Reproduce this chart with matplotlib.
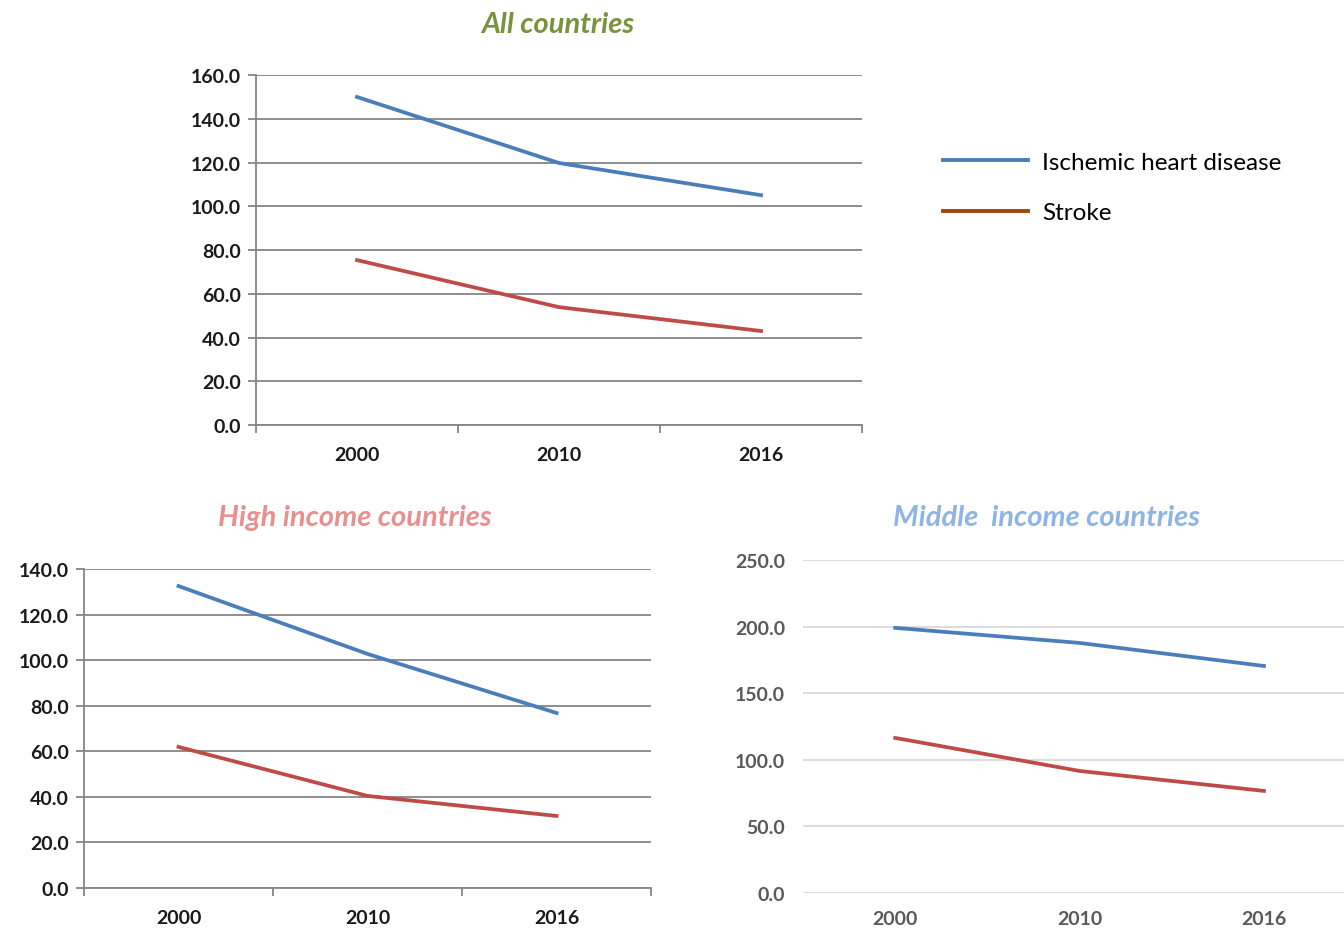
import matplotlib
matplotlib.use("Agg")
import matplotlib.pyplot as plt
from matplotlib.lines import Line2D

plt.rcParams['font.family'] = ['Lato', 'DejaVu Sans']

years = ['2000', '2010', '2016']

all_ihd = [150.0, 119.8, 105.1]
all_stroke = [75.4, 53.9, 43.0]

high_ihd = [132.5, 102.7, 76.8]
high_stroke = [61.9, 40.4, 31.6]

mid_ihd = [199.0, 187.7, 170.4]
mid_stroke = [116.4, 91.6, 76.6]

blue = '#4a7ebb'
red = '#be4b48'
legend_red = '#9e480e'

fig = plt.figure(figsize=(13.44, 9.29), dpi=100)


def style_boxed(ax, ymax, step):
    ax.set_ylim(0, ymax)
    ax.set_xlim(-0.5, 2.5)
    ax.set_yticks([i * step for i in range(int(ymax / step) + 1)])
    ax.set_yticklabels([f'{i * step:.1f}' for i in range(int(ymax / step) + 1)])
    ax.set_xticks(range(3))
    ax.set_xticklabels(years)
    ax.set_xticks([-0.5, 0.5, 1.5, 2.5], minor=True)
    ax.tick_params(axis='x', which='major', length=0, pad=15)
    ax.tick_params(axis='x', which='minor', length=6, color='#868686', width=1.3)
    ax.tick_params(axis='y', length=6, color='#868686', width=1.3, pad=5)
    ax.grid(axis='y', color='#868686', linewidth=1.3)
    ax.set_axisbelow(True)
    for s in ['top', 'right']:
        ax.spines[s].set_visible(False)
    for s in ['left', 'bottom']:
        ax.spines[s].set_color('#868686')
        ax.spines[s].set_linewidth(1.3)
    for lab in ax.get_xticklabels() + ax.get_yticklabels():
        lab.set_fontsize(14)
        lab.set_fontweight('bold')
        lab.set_color('#1a1a1a')


# All countries
ax1 = fig.add_axes([0.1905, 0.5414, 0.4509, 0.3767])
ax1.plot(range(3), all_ihd, color=blue, lw=2.7)
ax1.plot(range(3), all_stroke, color=red, lw=2.7)
style_boxed(ax1, 160, 20)
fig.text(0.415, 0.973, 'All countries', ha='center', va='center', fontsize=21,
         fontweight='bold', fontstyle='italic', color='#77933c')

# High income countries
ax2 = fig.add_axes([0.0625, 0.0431, 0.4219, 0.3434])
ax2.plot(range(3), high_ihd, color=blue, lw=2.7)
ax2.plot(range(3), high_stroke, color=red, lw=2.7)
style_boxed(ax2, 140, 20)
fig.text(0.264, 0.442, 'High income countries', ha='center', va='center', fontsize=21,
         fontweight='bold', fontstyle='italic', color='#e6908f')

# Middle income countries
ax3 = fig.add_axes([0.5975, 0.0377, 0.4115, 0.3585])
ax3.plot(range(3), mid_ihd, color=blue, lw=2.7)
ax3.plot(range(3), mid_stroke, color=red, lw=2.7)
ax3.set_ylim(0, 250)
ax3.set_xlim(-0.5, 2.5)
ax3.set_yticks([0, 50, 100, 150, 200, 250])
ax3.set_yticklabels([f'{v:.1f}' for v in [0, 50, 100, 150, 200, 250]])
ax3.set_xticks(range(3))
ax3.set_xticklabels(years)
ax3.tick_params(length=0, pad=12)
ax3.tick_params(axis='y', pad=13)
ax3.grid(axis='y', color='#d9d9d9', linewidth=1.3)
ax3.set_axisbelow(True)
for s in ax3.spines.values():
    s.set_visible(False)
for lab in ax3.get_xticklabels() + ax3.get_yticklabels():
    lab.set_fontsize(14)
    lab.set_fontweight('bold')
    lab.set_color('#595959')
fig.text(0.779, 0.442, 'Middle  income countries', ha='center', va='center', fontsize=21,
         fontweight='bold', fontstyle='italic', color='#8eb4e3')

# Legend
handles = [Line2D([], [], color=blue, lw=2.8), Line2D([], [], color=legend_red, lw=2.8)]
fig.legend(handles, ['Ischemic heart disease', 'Stroke'], loc='upper left',
           bbox_to_anchor=(0.685, 0.859), frameon=False, fontsize=17.5,
           handlelength=3.5, handletextpad=0.6, labelspacing=1.2)

fig.savefig('out.png', dpi=100)
